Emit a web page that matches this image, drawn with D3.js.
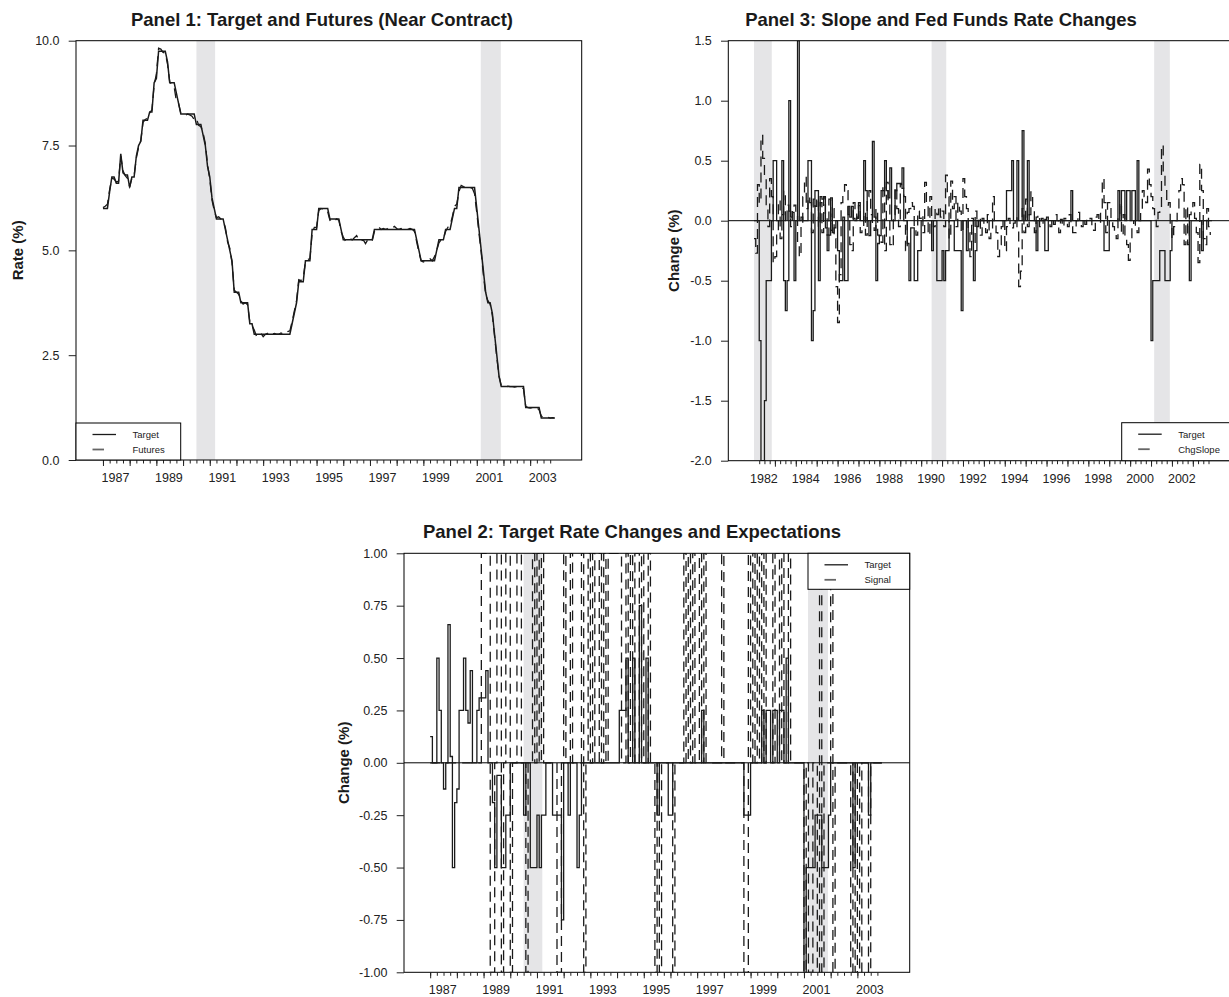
<!DOCTYPE html>
<html>
<head>
<meta charset="utf-8">
<script src="https://cdn.jsdelivr.net/npm/d3@7"></script>
<style>
  body { margin: 0; background: #fff; }
</style>
</head>
<body>
<div id="chart"></div>
<script>
// ---- data: monthly series ----
// Panels 1 and 2 start in Jan 1987, panel 3 starts in Jan 1982
const levelStart = 1987;
const changeStart = 1982;

// Fed funds target level (%), Jan 1987 - Dec 2003
const targetLevel = [
  6.00, 6.00, 6.00, 6.40, 6.75, 6.75, 6.60, 6.60, 7.30, 6.85, 6.80, 6.80,
  6.50, 6.75, 6.75, 7.25, 7.50, 7.60, 8.10, 8.10, 8.10, 8.30, 8.30, 9.00,
  9.10, 9.75, 9.75, 9.75, 9.75, 9.50, 9.00, 9.00, 9.00, 8.75, 8.50, 8.25,
  8.25, 8.25, 8.25, 8.25, 8.25, 8.25, 8.00, 8.00, 8.00, 7.75, 7.50, 7.00,
  6.75, 6.25, 6.00, 5.75, 5.75, 5.75, 5.75, 5.50, 5.25, 5.00, 4.75, 4.00,
  4.00, 4.00, 3.75, 3.75, 3.75, 3.75, 3.25, 3.25, 3.00, 3.00, 3.00, 3.00,
  3.00, 3.00, 3.00, 3.00, 3.00, 3.00, 3.00, 3.00, 3.00, 3.00, 3.00, 3.00,
  3.00, 3.25, 3.50, 3.75, 4.25, 4.25, 4.25, 4.75, 4.75, 4.75, 5.50, 5.50,
  5.50, 6.00, 6.00, 6.00, 6.00, 6.00, 5.75, 5.75, 5.75, 5.75, 5.75, 5.50,
  5.25, 5.25, 5.25, 5.25, 5.25, 5.25, 5.25, 5.25, 5.25, 5.25, 5.25, 5.25,
  5.25, 5.25, 5.50, 5.50, 5.50, 5.50, 5.50, 5.50, 5.50, 5.50, 5.50, 5.50,
  5.50, 5.50, 5.50, 5.50, 5.50, 5.50, 5.50, 5.50, 5.50, 5.25, 5.00, 4.75,
  4.75, 4.75, 4.75, 4.75, 4.75, 4.75, 5.00, 5.25, 5.25, 5.25, 5.50, 5.50,
  5.50, 5.75, 6.00, 6.00, 6.50, 6.50, 6.50, 6.50, 6.50, 6.50, 6.50, 6.50,
  6.00, 5.50, 5.00, 4.50, 4.00, 3.75, 3.75, 3.50, 3.00, 2.50, 2.00, 1.75,
  1.75, 1.75, 1.75, 1.75, 1.75, 1.75, 1.75, 1.75, 1.75, 1.75, 1.25, 1.25,
  1.25, 1.25, 1.25, 1.25, 1.25, 1.00, 1.00, 1.00, 1.00, 1.00, 1.00, 1.00
];

// near-contract futures rate (%), Jan 1987 - Dec 2003
const futures = [
  6.02, 6.05, 6.10, 6.45, 6.72, 6.70, 6.63, 6.65, 7.25, 6.90, 6.78, 6.72,
  6.52, 6.72, 6.78, 7.20, 7.45, 7.62, 8.05, 8.12, 8.15, 8.28, 8.35, 8.95,
  9.20, 9.82, 9.80, 9.72, 9.70, 9.45, 9.02, 8.95, 8.90, 8.55, 8.50, 8.27,
  8.24, 8.22, 8.25, 8.23, 8.20, 8.12, 8.15, 7.98, 7.95, 7.80, 7.55, 7.05,
  6.70, 6.20, 5.95, 5.78, 5.80, 5.75, 5.70, 5.55, 5.20, 5.05, 4.70, 4.05,
  4.00, 3.95, 3.80, 3.72, 3.75, 3.70, 3.30, 3.20, 3.10, 2.95, 2.98, 3.02,
  2.94, 3.00, 3.02, 3.05, 3.00, 3.02, 3.00, 3.00, 3.03, 3.00, 3.02, 3.06,
  3.08, 3.30, 3.55, 3.80, 4.30, 4.28, 4.35, 4.72, 4.78, 4.80, 5.40, 5.55,
  5.55, 5.95, 6.00, 5.98, 5.98, 5.92, 5.72, 5.75, 5.70, 5.75, 5.72, 5.45,
  5.32, 5.22, 5.25, 5.28, 5.25, 5.30, 5.35, 5.25, 5.22, 5.25, 5.16, 5.25,
  5.25, 5.22, 5.45, 5.52, 5.55, 5.50, 5.52, 5.50, 5.52, 5.55, 5.53, 5.57,
  5.52, 5.50, 5.52, 5.50, 5.52, 5.50, 5.52, 5.50, 5.45, 5.20, 4.95, 4.75,
  4.72, 4.75, 4.78, 4.80, 4.75, 4.85, 5.00, 5.18, 5.25, 5.28, 5.45, 5.55,
  5.60, 5.80, 6.05, 6.10, 6.40, 6.55, 6.52, 6.50, 6.50, 6.50, 6.48, 6.35,
  5.90, 5.40, 4.95, 4.40, 3.95, 3.80, 3.72, 3.45, 2.95, 2.45, 2.00, 1.78,
  1.75, 1.74, 1.76, 1.75, 1.75, 1.74, 1.75, 1.75, 1.73, 1.70, 1.28, 1.25,
  1.24, 1.25, 1.22, 1.24, 1.20, 1.05, 1.02, 1.00, 1.02, 1.00, 1.01, 1.00
];

// monthly change in the target (%), Jan 1982 - Dec 2003
const targetChg = [
  0, 0, 0, -1.0, -2.0, -2.0, -1.5, -0.5, -0.5, -0.5, 0, 0.5,
  0.5, 0, 0, 0, 0.5, -0.5, -0.75, -0.5, 1.0, 0.03, 0.07, -0.5,
  0, 1.5, 0, 0.03, 0, 0, 0, 0.5, 0.5, -1.0, -0.75, 0.25,
  0.25, -0.5, 0.2, 0.18, 0.2, -0.06, -0.25, -0.12, 0.19, -0.1, -0.06, 0,
  -0.25, -0.5, -0.5, 0.03, -0.5, -0.5, 0.12, 0.03, 0.12, 0.02, 0, 0.03,
  0.125, 0, 0, 0.5, 0.25, 0, -0.125, 0, 0.66, 0.03, -0.5, -0.19,
  -0.125, 0.25, 0.25, 0.5, 0.25, 0.19, 0.44, 0, 0, 0.25, 0.31, 0.31,
  0.31, 0.44, 0, 0, -0.19, -0.5, -0.06, -0.06, -0.5, -0.5, -0.25, -0.25,
  0, 0, 0, 0, 0, 0, -0.25, 0, 0, -0.5, -0.5, -0.5,
  -0.25, -0.5, -0.25, -0.25, 0, 0, 0, -0.25, -0.25, -0.25, -0.25, -0.75,
  0, 0, -0.25, 0, 0, 0, -0.5, -0.25, 0, 0, 0, 0,
  0, 0, 0, 0, 0, 0, 0, 0, 0, 0, 0, 0,
  0, 0.25, 0.25, 0.25, 0.5, 0, 0, 0.5, 0, 0, 0.75, 0,
  0, 0.5, 0, 0, 0, 0, -0.25, 0, 0, 0, 0, -0.25,
  -0.25, 0, 0, 0, 0, 0, 0, 0, 0, 0, 0, 0,
  0, 0, 0.25, 0, 0, 0, 0, 0, 0, 0, 0, 0,
  0, 0, 0, 0, 0, 0, 0, 0, 0, -0.25, -0.25, -0.25,
  0, 0, 0, 0, 0, 0.25, 0, 0.25, 0.25, 0, 0.25, 0.25,
  0, 0.25, 0.25, 0, 0.5, 0, 0, 0, 0, 0, 0, 0,
  -1.0, -0.5, -0.5, -0.5, -0.5, -0.25, -0.25, -0.25, -0.5, -0.5, -0.5, -0.25,
  0, 0, 0, 0, 0, 0, 0, 0, 0, 0, -0.5, 0,
  0, 0, 0, 0, 0, -0.25, 0, 0, 0, 0, 0, 0
];

// monthly change in the yield-curve slope (%), Jan 1982 - Nov 2003
const chgSlope = [
  -0.15, -0.27, 0.30, 0.15, 0.71, 0.52, 0.35, 0.12, -0.05, 0.35, 0.20, -0.35,
  -0.30, -0.08, 0.17, -0.15, 0.05, 0.25, -0.02, 0.13, 0.08, -0.05, 0.10, 0.13,
  0.05, -0.20, -0.30, -0.05, 0.20, 0.36, 0.10, 0.20, 0.15, -0.10, 0.18, 0.12,
  0.19, -0.05, 0.15, -0.10, 0.19, 0.05, -0.12, 0.18, -0.08, 0.10, -0.15, -0.55,
  -0.85, -0.45, 0.15, 0.22, 0.30, 0.25, 0.05, -0.20, -0.25, 0.15, 0.10, 0.02,
  0.15, -0.10, -0.05, 0.07, -0.12, 0.20, 0.25, 0.05, -0.05, -0.08, 0.10, -0.12,
  -0.15, -0.18, 0.30, -0.25, 0.32, 0.15, -0.20, -0.22, 0.05, 0.28, 0.10, -0.05,
  0.30, 0.27, 0.20, -0.25, 0.07, 0.10, 0.15, 0.12, -0.05, -0.12, 0.08, 0.02,
  0.05, -0.10, 0.32, 0.15, -0.12, 0.20, 0.02, -0.05, 0.10, 0.05, 0.12, 0.03,
  0.08, -0.05, 0.38, 0.20, -0.15, 0.33, 0.10, 0.20, -0.05, 0.15, 0.08, -0.10,
  0.35, 0.20, 0.10, -0.10, -0.30, 0.02, -0.20, 0.08, -0.05, 0.03, -0.12, 0.02,
  -0.05, -0.10, 0.05, -0.15, -0.10, 0.20, 0.00, -0.10, -0.30, -0.20, -0.05, 0.02,
  -0.25, -0.05, 0.02, -0.05, -0.06, -0.02, 0.03, -0.06, -0.55, -0.42, 0.10, -0.10,
  0.18, -0.05, 0.05, 0.24, 0.08, -0.10, 0.03, 0.05, -0.05, 0.02, -0.03, 0.01,
  0.03, 0.01, -0.05, 0.02, -0.03, 0.05, 0.00, -0.10, 0.01, -0.05, 0.02, 0.00,
  -0.05, 0.05, -0.05, -0.10, -0.10, 0.00, 0.07, 0.00, -0.05, 0.02, -0.03, 0.01,
  0.00, 0.02, -0.05, -0.08, 0.03, 0.05, -0.02, 0.06, 0.35, 0.15, -0.10, 0.15,
  0.15, 0.00, -0.05, -0.10, -0.15, 0.03, 0.15, -0.12, 0.05, -0.15, -0.20, -0.33,
  -0.15, -0.05, 0.00, -0.05, -0.10, 0.00, 0.10, 0.25, 0.20, 0.15, 0.43, 0.30,
  0.20, 0.10, 0.05, -0.05, 0.07, 0.12, 0.63, 0.40, 0.25, 0.13, 0.15, -0.05,
  -0.15, -0.05, 0.00, 0.10, 0.25, 0.35, 0.30, -0.20, 0.12, -0.20, 0.05, 0.10,
  0.15, 0.02, -0.10, -0.35, 0.47, 0.25, -0.15, -0.20, 0.10, -0.05, -0.12
];

// expectation signal (-1 cut, 0 none, +1 hike), Jan 1987 - Dec 2003
const signal = [
  0, 0, 0, 0, 0, 0, 0, 0, 0, 0, 0, 0,
  0, 0, 0, 0, 0, 0, 0, 0, 0, 0, 0, 1,
  1, 1, 1, -1, -1, 0, 1, 1, -1, 0, 1, 1,
  -1, 0, 0, 1, 1, 0, 0, -1, 0, 0, 1, 0,
  1, 0, 1, 0, 0, 0, 0, 0, 0, -1, -1, 0,
  1, 0, 0, 1, 0, 0, 0, 0, 1, -1, 0, 1,
  0, 1, 0, 0, 1, 0, 1, 0, 1, 1, 1, 1,
  1, 1, 0, 0, 1, 0, 1, 0, 1, 1, 0, 1,
  0, 0, 1, 0, 0, -1, 0, -1, 0, 0, 0, 0,
  0, -1, 0, 0, 0, 0, 1, 0, 1, 0, 1, 0,
  0, 1, 0, 1, 0, 0, 0, 0, 0, 0, 0, 1,
  0, 0, 0, 0, 0, 0, 0, 0, 0, -1, -1, 1,
  0, 1, 0, 1, 0, 1, 0, 1, 1, 1, 0, 1,
  1, 0, 1, 0, 0, 1, 0, 0, 0, 0, 0, 0,
  -1, 0, -1, -1, 0, 0, -1, 1, -1, 0, 0, 0,
  1, -1, 0, 0, 0, 0, 0, 0, 0, -1, 0, -1,
  0, -1, 0, 0, 0, -1, 0, 0, 0, 0, 0, 0
];

// NBER recessions (decimal years)
const recessions = [[1981.5, 1982.85], [1990.5, 1991.2], [2001.15, 2001.9]];

// x-axis labels
const oddYears = [1987, 1989, 1991, 1993, 1995, 1997, 1999, 2001, 2003];
const evenYears = [1982, 1984, 1986, 1988, 1990, 1992, 1994, 1996, 1998, 2000, 2002];

// ---- layout ----
const FONT = "'Liberation Sans', Arial, Helvetica, sans-serif";
const INK = "#1a1a1a";
const DASH = "10,6";

const svg = d3.select("#chart")
  .append("svg")
    .attr("width", 1229)
    .attr("height", 997)
    .style("font-family", FONT);

function monthly(values, start) {
  return values.map((v, i) => ({ t: start + i / 12, v: v }));
}

function drawPanel(cfg) {
  const x = d3.scaleLinear().domain(cfg.xDomain).range([cfg.left, cfg.left + cfg.width]);
  const y = d3.scaleLinear().domain(cfg.yDomain).range([cfg.top + cfg.height, cfg.top]);
  const bottom = cfg.top + cfg.height;

  svg.append("clipPath").attr("id", cfg.id + "-clip")
    .append("rect")
      .attr("x", cfg.left).attr("y", cfg.top)
      .attr("width", cfg.width).attr("height", cfg.height);

  const plot = svg.append("g").attr("clip-path", `url(#${cfg.id}-clip)`);

  // recession shading, starting no earlier than the data
  plot.selectAll("rect.band")
    .data(recessions.filter(r => r[1] > cfg.dataStart))
    .join("rect")
      .attr("class", "band")
      .attr("x", d => x(Math.max(d[0], cfg.dataStart)))
      .attr("width", d => x(d[1]) - x(Math.max(d[0], cfg.dataStart)))
      .attr("y", cfg.top)
      .attr("height", cfg.height)
      .attr("fill", "#e5e5e7");

  if (cfg.zeroLine) {
    plot.append("line")
      .attr("x1", cfg.left).attr("x2", cfg.left + cfg.width)
      .attr("y1", y(0)).attr("y2", y(0))
      .attr("stroke", "#000").attr("stroke-width", 1);
  }

  cfg.series.forEach(s => {
    const line = d3.line()
      .x(d => x(d.t))
      .y(d => y(d.v))
      .curve(s.step ? d3.curveStepAfter : d3.curveLinear);
    plot.append("path")
      .datum(s.data)
      .attr("fill", "none")
      .attr("stroke", INK)
      .attr("stroke-width", s.width || 1.3)
      .attr("stroke-dasharray", s.dashed ? DASH : null)
      .attr("d", line);
  });

  // box
  svg.append("rect")
    .attr("x", cfg.left).attr("y", cfg.top)
    .attr("width", cfg.width).attr("height", cfg.height)
    .attr("fill", "none").attr("stroke", "#000").attr("stroke-width", 1);

  // x axis: quarterly minor ticks, yearly major ticks, labels near mid-year
  const minor = d3.range(cfg.tickFrom, cfg.tickTo + 0.01, 0.25);
  const major = minor.filter(d => Number.isInteger(d));
  const axisStyle = g => g
    .attr("font-family", FONT)
    .attr("font-size", 12.5)
    .attr("color", "#222")
    .call(a => a.select(".domain").remove());

  svg.append("g").attr("transform", `translate(0,${bottom})`)
    .call(d3.axisBottom(x).tickValues(minor).tickSize(3.5).tickFormat(""))
    .call(axisStyle);
  svg.append("g").attr("transform", `translate(0,${bottom})`)
    .call(d3.axisBottom(x).tickValues(major).tickSize(6).tickFormat(""))
    .call(axisStyle);
  svg.append("g").attr("transform", `translate(0,${bottom})`)
    .call(d3.axisBottom(x).tickValues(cfg.labels.map(d => d + 0.45))
      .tickSize(0).tickPadding(13).tickFormat(d => Math.floor(d)))
    .call(axisStyle);

  // y axis
  svg.append("g").attr("transform", `translate(${cfg.left},0)`)
    .call(d3.axisLeft(y).tickValues(cfg.yTicks).tickSize(7.3).tickPadding(9.2)
      .tickFormat(d => d.toFixed(cfg.yDigits)))
    .call(axisStyle);

  // titles
  svg.append("text")
    .attr("x", cfg.titleX).attr("y", cfg.titleY)
    .attr("text-anchor", "middle")
    .style("font-size", "18.5px").style("font-weight", "bold")
    .attr("fill", INK)
    .text(cfg.title);

  svg.append("text")
    .attr("transform", `translate(${cfg.yTitleX},${cfg.top + cfg.height / 2}) rotate(-90)`)
    .attr("text-anchor", "middle")
    .style("font-size", "15px").style("font-weight", "bold")
    .attr("fill", INK)
    .text(cfg.yTitle);

  // legend
  const lg = cfg.legend;
  svg.append("rect")
    .attr("x", lg.x).attr("y", lg.y)
    .attr("width", lg.w).attr("height", lg.h)
    .attr("fill", "#fff").attr("stroke", "#000").attr("stroke-width", 1);
  lg.items.forEach((name, i) => {
    const ly = lg.y + 11.5 + i * 15;
    svg.append("line")
      .attr("x1", lg.x + 16.5).attr("x2", lg.x + (i === 0 ? 40 : 28))
      .attr("y1", ly).attr("y2", ly)
      .attr("stroke", i === 0 ? INK : "#666")
      .attr("stroke-width", i === 0 ? 1.3 : 1.8);
    svg.append("text")
      .attr("x", lg.x + 56.5).attr("y", ly)
      .attr("dy", "0.35em")
      .style("font-size", "9.5px")
      .attr("fill", "#222")
      .text(name);
  });
}

// Panel 1
drawPanel({
  id: "p1", left: 76, top: 40.7, width: 505.7, height: 419.3,
  xDomain: [1985.99, 2004.93], yDomain: [0, 10],
  yTicks: [0, 2.5, 5, 7.5, 10], yDigits: 1,
  dataStart: levelStart, tickFrom: 1987, tickTo: 2003.75, labels: oddYears,
  title: "Panel 1: Target and Futures (Near Contract)", titleX: 322, titleY: 26,
  yTitle: "Rate (%)", yTitleX: 23,
  series: [
    { data: monthly(futures, levelStart), dashed: true },
    { data: monthly(targetLevel, levelStart), width: 1.5 }
  ],
  legend: { x: 76, y: 423, w: 104.7, h: 37, items: ["Target", "Futures"] }
});

// Panel 3
drawPanel({
  id: "p3", left: 728.3, top: 40.7, width: 505.7, height: 420,
  xDomain: [1980.77, 2004.97], yDomain: [-2, 1.5],
  yTicks: [-2, -1.5, -1, -0.5, 0, 0.5, 1, 1.5], yDigits: 1,
  dataStart: changeStart, tickFrom: 1982.25, tickTo: 2003.75, labels: evenYears,
  title: "Panel 3: Slope and Fed Funds Rate Changes", titleX: 941, titleY: 26,
  yTitle: "Change (%)", yTitleX: 679, zeroLine: true,
  series: [
    { data: monthly(chgSlope, changeStart), dashed: true, step: true },
    { data: monthly(targetChg, changeStart), step: true }
  ],
  legend: { x: 1121.7, y: 422.7, w: 120, h: 38, items: ["Target", "ChgSlope"] }
});

// Panel 2
drawPanel({
  id: "p2", left: 404, top: 553.3, width: 505.7, height: 419,
  xDomain: [1986.02, 2004.96], yDomain: [-1, 1],
  yTicks: [-1, -0.75, -0.5, -0.25, 0, 0.25, 0.5, 0.75, 1], yDigits: 2,
  dataStart: levelStart, tickFrom: 1987, tickTo: 2003.75, labels: oddYears,
  title: "Panel 2: Target Rate Changes and Expectations", titleX: 632, titleY: 538,
  yTitle: "Change (%)", yTitleX: 349, zeroLine: true,
  series: [
    { data: monthly(signal, levelStart), dashed: true, step: true },
    { data: monthly(targetChg, changeStart).filter(d => d.t >= levelStart), step: true }
  ],
  legend: { x: 808, y: 553.3, w: 101.7, h: 36, items: ["Target", "Signal"] }
});
</script>
</body>
</html>
